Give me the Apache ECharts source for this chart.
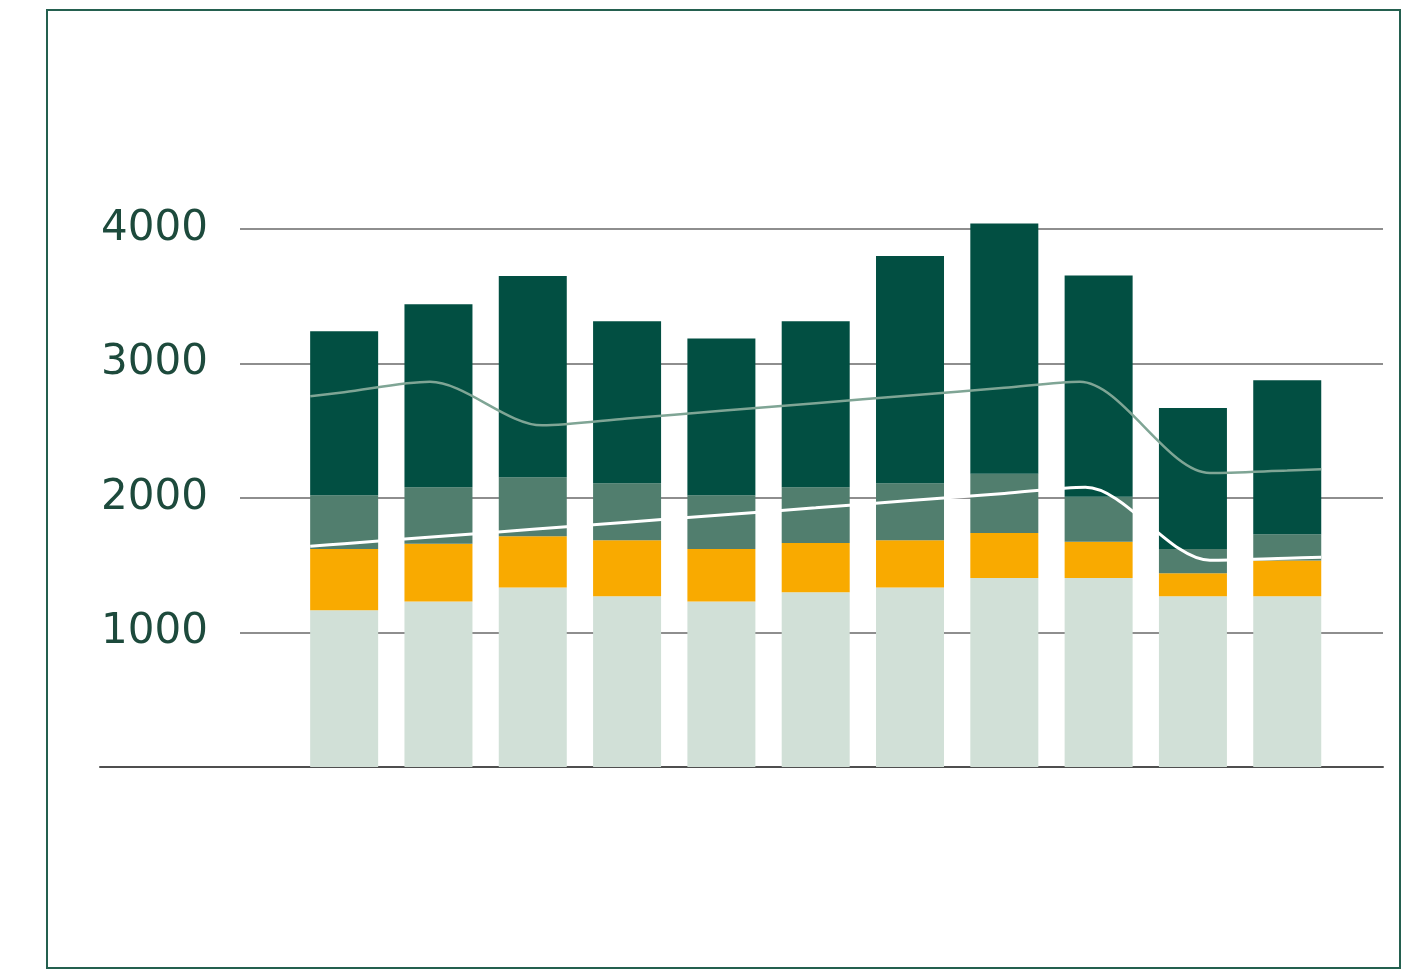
<!DOCTYPE html>
<html>
<head>
<meta charset="utf-8">
<script src="https://cdn.jsdelivr.net/npm/echarts@6/dist/echarts.min.js"></script>
<style>
  html, body { margin: 0; padding: 0; background: #ffffff; }
  #chart { position: absolute; left: 0; top: 0; width: 1409px; height: 969px; }
  #frame { position: absolute; left: 46px; top: 9px; width: 1355px; height: 960px;
           box-sizing: border-box; border: 2px solid #24604f; pointer-events: none; }
</style>
</head>
<body>
<div id="chart"></div>
<div id="frame"></div>
<script>
// ---- data ----
const categories   = ['1', '2', '3', '4', '5', '6', '7', '8', '9', '10', '11'];
const lightValues  = [1165, 1230, 1335, 1270, 1230, 1300, 1335, 1405, 1405, 1270, 1270];
const orangeValues = [455, 430, 380, 415, 390, 365, 350, 335, 270, 170, 265];
const midValues    = [400, 420, 440, 425, 400, 415, 425, 440, 335, 180, 195];
const darkValues   = [1220, 1360, 1495, 1205, 1165, 1235, 1690, 1860, 1645, 1050, 1145];

const line1X      = [-0.36, 0, 0.91, 2.10, 3, 4, 5, 6, 7, 7.80, 9.18, 10, 10.36];
const line1Values = [2756, 2787, 2864, 2540, 2591, 2648, 2705, 2762, 2819, 2864, 2186, 2204, 2213];
const line2X      = [-0.36, 0, 1, 2, 3, 4, 5, 6, 7, 7.86, 9.18, 10, 10.36];
const line2Values = [1641, 1660, 1714, 1767, 1820, 1874, 1927, 1981, 2034, 2080, 1537, 1552, 1559];

const yTicks = [1000, 2000, 3000, 4000];

// ---- build ----
const pair = (xs, ys) => xs.map((x, i) => [x, ys[i]]);
const barSeries = (name, vals, color) => ({
  name, type: 'bar', stack: 'total', xAxisIndex: 2, yAxisIndex: 2,
  barWidth: 68, clip: false, itemStyle: { color }, z: 2,
  data: vals
});
const yBase = (gridIndex) => ({ gridIndex, type: 'value', min: 0, max: 4000, interval: 1000,
  axisLine: { show: false }, axisTick: { show: false }, axisLabel: { show: false },
  splitLine: { show: false } });

const chart = echarts.init(document.getElementById('chart'), null, { renderer: 'canvas' });
chart.setOption({
  animation: false,
  backgroundColor: '#ffffff',
  grid: [
    { left: 240, right: 26, top: 229, bottom: 202 },
    { left: 100, right: 26, top: 229, bottom: 202 },
    { left: 297, right: 74.6, top: 229, bottom: 202 }
  ],
  xAxis: [
    { gridIndex: 0, type: 'value', min: 0, max: 1, show: false },
    { gridIndex: 1, type: 'value', min: 0, max: 1,
      axisLine: { show: true, lineStyle: { color: '#4f4f4f', width: 2 } },
      axisTick: { show: false }, axisLabel: { show: false }, splitLine: { show: false } },
    { gridIndex: 2, type: 'category', data: categories, show: false },
    { gridIndex: 2, type: 'value', min: -0.5, max: 10.5, show: false }
  ],
  yAxis: [
    Object.assign(yBase(0), { splitLine: { show: true, lineStyle: { color: '#8e8e8e', width: 2 } } }),
    Object.assign(yBase(1), {
      axisLabel: { show: true, inside: true, margin: 1, padding: [6, 0, 0, 0],
        fontFamily: 'DejaVu Sans', fontSize: 42, color: '#1d4a3c',
        formatter: v => yTicks.includes(v) ? String(v) : '' } }),
    yBase(2)
  ],
  series: [
    barSeries('light', lightValues, '#d1e0d7'),
    barSeries('orange', orangeValues, '#f9aa00'),
    barSeries('mid', midValues, '#517e6e'),
    barSeries('dark', darkValues, '#024f42'),
    { name: 'line1', type: 'line', xAxisIndex: 3, yAxisIndex: 2, smooth: 0.3,
      showSymbol: false, z: 5, lineStyle: { color: '#7fa595', width: 2.5 },
      data: pair(line1X, line1Values) },
    { name: 'line2', type: 'line', xAxisIndex: 3, yAxisIndex: 2, smooth: 0.3,
      showSymbol: false, z: 6, lineStyle: { color: '#ffffff', width: 3 },
      data: pair(line2X, line2Values) }
  ]
});
</script>
</body>
</html>
